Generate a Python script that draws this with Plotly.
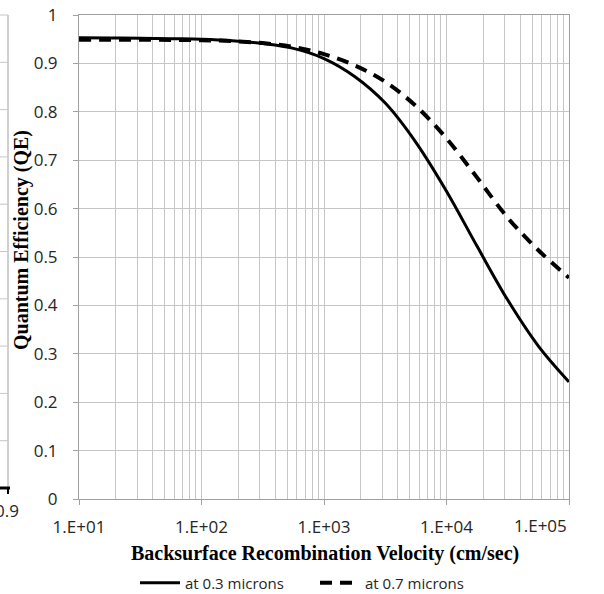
import plotly.graph_objects as go

# ---- data ----
velocity = [10, 17.78, 31.62, 56.23, 100, 177.8, 316.2, 562.3, 1000, 1778, 3162,
            5623, 10000, 17783, 31623, 56234, 100000]
qe_03 = [0.953, 0.9525, 0.952, 0.951, 0.950, 0.947, 0.941, 0.931, 0.910, 0.873,
         0.818, 0.737, 0.636, 0.522, 0.411, 0.316, 0.242]
qe_07 = [0.949, 0.949, 0.949, 0.9485, 0.948, 0.946, 0.942, 0.934, 0.919, 0.896,
         0.862, 0.812, 0.745, 0.664, 0.581, 0.514, 0.457]
series_names = ["at 0.3 microns", "at 0.7 microns"]
x_tickvals = [10, 100, 1000, 10000, 100000]
x_ticktext = ["1.E+01", "1.E+02", "1.E+03", "1.E+04", "1.E+05"]
y_tickvals = [0, 0.1, 0.2, 0.3, 0.4, 0.5, 0.6, 0.7, 0.8, 0.9, 1]
y_ticktext = ["0", "0.1", "0.2", "0.3", "0.4", "0.5", "0.6", "0.7", "0.8", "0.9", "1"]
x_title = "Backsurface Recombination Velocity (cm/sec)"
y_title = "Quantum Efficiency (QE)"

W, H = 604, 594
L, R, T, B = 79, 35, 15, 95
PW, PH = W - L - R, H - T - B

def px(xp):
    return (xp - L) / PW

def py(yp):
    return (H - B - yp) / PH

GRID = "#c6c6c6"
AXIS = "#a0a0a0"
SANS = "Open Sans, Liberation Sans, sans-serif"
SERIF = "Liberation Serif, Times New Roman, serif"
TXT = "#262626"

minor_vals = [m * 10 ** e for e in range(1, 5) for m in range(2, 10)]

fig = go.Figure()
fig.add_trace(go.Scatter(x=velocity, y=qe_03, mode="lines", name=series_names[0],
                         line=dict(color="black", width=3, shape="spline", smoothing=1)))
fig.add_trace(go.Scatter(x=velocity, y=qe_07, mode="lines", name=series_names[1],
                         line=dict(color="black", width=4, dash="12px,8px",
                                   shape="spline", smoothing=1)))

fig.update_xaxes(type="log", range=[1, 5], tickvals=x_tickvals,
                 ticktext=x_ticktext[:-1] + [""], automargin=False,
                 showgrid=True, gridcolor=GRID, gridwidth=1,
                 minor=dict(tickvals=minor_vals, showgrid=True, gridcolor=GRID,
                            gridwidth=1, ticks=""),
                 showline=True, linecolor=AXIS, linewidth=1, mirror=True,
                 ticks="outside", ticklen=5, tickcolor=AXIS,
                 tickfont=dict(family=SANS, size=17, color=TXT),
                 ticklabelstandoff=8, zeroline=False)
fig.update_yaxes(range=[0, 1], tickvals=y_tickvals, ticktext=y_ticktext,
                 automargin=False,
                 showgrid=True, gridcolor=GRID, gridwidth=1,
                 showline=True, linecolor=AXIS, linewidth=1, mirror=True,
                 ticks="outside", ticklen=5, tickcolor=AXIS,
                 tickfont=dict(family=SANS, size=17, color=TXT),
                 ticklabelstandoff=12, zeroline=False)

annotations = [
    dict(text=x_ticktext[-1], x=5, xref="x", y=py(525), yref="paper",
         xanchor="right", yanchor="middle", showarrow=False,
         font=dict(family=SANS, size=17, color=TXT)),
    dict(text="<b>%s</b>" % x_title, x=px(325), xref="paper", y=py(553), yref="paper",
         xanchor="center", yanchor="middle", showarrow=False,
         font=dict(family=SERIF, size=20, color="black")),
    dict(text="<b>%s</b>" % y_title, x=px(22), xref="paper", y=py(240), yref="paper",
         xanchor="center", yanchor="middle", textangle=-90, showarrow=False,
         font=dict(family=SERIF, size=20, color="black")),
    dict(text="0.9", x=px(7), xref="paper", y=py(511), yref="paper",
         xanchor="center", yanchor="middle", showarrow=False,
         font=dict(family=SANS, size=17, color=TXT)),
]

# remnant of neighbouring chart at the left edge
shapes = [dict(type="line", xref="paper", yref="paper", x0=px(8), x1=px(8),
               y0=py(15), y1=py(488), line=dict(color=AXIS, width=1))]
for i in range(10):
    yy = 15 + i * (488 - 15) / 10
    shapes.append(dict(type="line", xref="paper", yref="paper", x0=px(-5), x1=px(8),
                       y0=py(yy), y1=py(yy), line=dict(color=GRID, width=1)))
shapes.append(dict(type="line", xref="paper", yref="paper", x0=px(-5), x1=px(10),
                   y0=py(488), y1=py(488), line=dict(color="black", width=3)))
shapes.append(dict(type="line", xref="paper", yref="paper", x0=px(8), x1=px(8),
                   y0=py(488), y1=py(494), line=dict(color="black", width=2)))

fig.update_layout(width=W, height=H,
                  margin=dict(l=L, r=R, t=T, b=B, autoexpand=False),
                  paper_bgcolor="white", plot_bgcolor="white",
                  annotations=annotations, shapes=shapes,
                  showlegend=True,
                  legend=dict(orientation="h", x=px(315), xanchor="center",
                              y=py(583), yanchor="middle",
                              font=dict(family=SANS, size=15, color=TXT),
                              bgcolor="rgba(0,0,0,0)", itemwidth=40,
                              entrywidth=125))

fig.write_html("out.html")
